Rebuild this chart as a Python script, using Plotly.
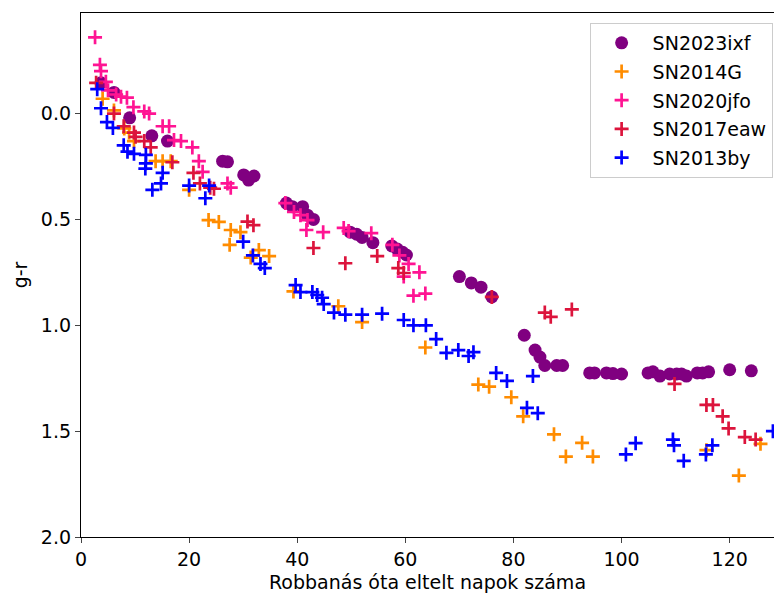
import plotly.graph_objects as go

# SN2023ixf
ixf_days = [3.7, 6.1, 9.0, 13.1, 16.0, 26.2, 27.1, 30.1, 31.0, 32.0,
            38.0, 39.1, 41.0, 41.9, 43.0, 49.8, 51.0, 52.0, 54.0, 57.5,
            58.5, 59.5, 60.2, 70.0, 72.2, 74.0, 76.0, 82.0, 84.0, 84.9,
            85.8, 88.0, 89.1, 94.1, 95.0, 97.2, 98.4, 100.0, 104.9, 105.8,
            107.1, 108.9, 110.2, 111.1, 112.0, 114.0, 115.0, 116.1, 120.0, 124.0]
ixf_gr = [-0.145, -0.1, 0.02, 0.105, 0.13, 0.225, 0.228, 0.29, 0.314, 0.295,
          0.423, 0.44, 0.44, 0.48, 0.5, 0.56, 0.57, 0.585, 0.61, 0.625,
          0.64, 0.655, 0.668, 0.77, 0.80, 0.82, 0.866, 1.047, 1.117, 1.15,
          1.19, 1.19, 1.19, 1.225, 1.225, 1.225, 1.228, 1.23, 1.225, 1.22,
          1.24, 1.23, 1.23, 1.23, 1.24, 1.225, 1.225, 1.22, 1.21, 1.215]

# SN2014G
g14_days = [4.0, 6.1, 8.0, 8.9, 9.8, 13.8, 15.1, 16.6, 20.0, 23.6,
            25.5, 27.7, 29.5, 27.5, 31.4, 32.9, 34.8, 39.3, 47.6, 52.0,
            63.7, 73.5, 75.5, 79.6, 81.8, 87.5, 92.7, 89.7, 94.7, 115.7,
            121.7, 125.7]
g14_gr = [-0.07, -0.015, 0.07, 0.09, 0.13, 0.225, 0.225, 0.225, 0.36, 0.503,
          0.512, 0.55, 0.56, 0.62, 0.68, 0.645, 0.673, 0.84, 0.91, 0.985,
          1.105, 1.28, 1.29, 1.34, 1.43, 1.515, 1.555, 1.62, 1.62, 1.59,
          1.71, 1.56]

# SN2020jfo
jfo_days = [2.6, 3.5, 3.7, 4.6, 5.0, 6.5, 7.4, 8.5, 9.7, 11.7,
            12.6, 15.1, 16.3, 17.2, 18.5, 20.6, 21.8, 22.5, 27.1, 27.7,
            37.8, 39.4, 40.6, 41.9, 41.7, 44.8, 48.6, 49.5, 53.7, 57.6,
            58.9, 60.6, 59.7, 62.6, 61.5, 63.7]
jfo_gr = [-0.36, -0.23, -0.2, -0.15, -0.11, -0.09, -0.08, -0.075, -0.03, -0.01,
          0.0, 0.06, 0.06, 0.125, 0.13, 0.16, 0.225, 0.275, 0.33, 0.35,
          0.423, 0.465, 0.48, 0.503, 0.55, 0.56, 0.54, 0.555, 0.565, 0.62,
          0.67, 0.71, 0.77, 0.75, 0.86, 0.85]

# SN2017eaw
eaw_days = [2.8, 6.1, 7.9, 9.8, 10.1, 11.7, 12.9, 16.9, 20.8, 22.0,
            23.9, 24.6, 30.8, 31.9, 43.0, 48.9, 54.8, 58.7, 59.7, 76.0,
            85.8, 86.9, 90.8, 109.8, 115.7, 116.9, 118.7, 119.8, 122.8, 124.8]
eaw_gr = [-0.145, 0.0, 0.06, 0.09, 0.11, 0.13, 0.16, 0.23, 0.28, 0.33,
          0.35, 0.355, 0.51, 0.527, 0.635, 0.707, 0.673, 0.73, 0.753, 0.866,
          0.94, 0.96, 0.925, 1.277, 1.376, 1.376, 1.43, 1.487, 1.528, 1.54]

# SN2013by
by_days = [3.0, 3.7, 4.8, 5.9, 7.9, 8.6, 9.8, 12.0, 12.0, 11.9,
           15.1, 14.8, 13.2, 20.0, 23.7, 23.0, 30.0, 31.8, 33.2, 34.0,
           39.7, 40.6, 42.8, 43.7, 44.6, 44.9, 46.8, 48.9, 52.0, 55.7,
           59.7, 61.5, 63.8, 65.7, 67.6, 69.8, 71.7, 72.6, 76.8, 78.8,
           83.6, 82.5, 84.5, 100.8, 102.6, 109.5, 109.7, 111.5, 115.6, 116.8,
           128.0]
by_gr = [-0.115, -0.025, 0.04, 0.068, 0.15, 0.18, 0.19, 0.195, 0.235, 0.26,
         0.28, 0.33, 0.36, 0.34, 0.34, 0.4, 0.605, 0.67, 0.71, 0.73,
         0.81, 0.843, 0.843, 0.857, 0.87, 0.9, 0.94, 0.95, 0.95, 0.945,
         0.975, 1.0, 1.0, 1.065, 1.13, 1.117, 1.145, 1.127, 1.225, 1.263,
         1.24, 1.39, 1.415, 1.61, 1.557, 1.54, 1.567, 1.64, 1.61, 1.567,
         1.5]

x_ticks = [0, 20, 40, 60, 80, 100, 120]
y_ticks = [0.0, 0.5, 1.0, 1.5, 2.0]

FONT = "DejaVu Sans"
FS = 19

fig = go.Figure()
fig.add_trace(go.Scatter(x=ixf_days, y=ixf_gr, mode="markers", name="SN2023ixf",
                         legendgroup="a",
                         marker=dict(symbol="circle", size=13, color="purple", line=dict(width=0))))
plus_series = [
    ("SN2014G", g14_days, g14_gr, "darkorange", "b"),
    ("SN2020jfo", jfo_days, jfo_gr, "deeppink", "c"),
    ("SN2017eaw", eaw_days, eaw_gr, "crimson", "d"),
    ("SN2013by", by_days, by_gr, "blue", "e"),
]
for name, xs, ys, col, grp in plus_series:
    fig.add_trace(go.Scatter(x=xs, y=ys, mode="markers", name=name, legendgroup=grp,
                             marker=dict(symbol="cross-thin", size=10, color=col,
                                         line=dict(width=2.7, color=col))))

fig.update_layout(
    width=774, height=597,
    margin=dict(l=81, r=0, t=13, b=60),
    paper_bgcolor="white", plot_bgcolor="white",
    font=dict(family=FONT, size=FS, color="black"),
    showlegend=True,
    legend=dict(x=0.998, xanchor="right", y=0.981, yanchor="top",
                bgcolor="white", bordercolor="#cccccc", borderwidth=1,
                font=dict(family=FONT, size=FS), tracegroupgap=1,
                traceorder="grouped", itemwidth=52),
)
fig.update_xaxes(range=[0, 128.2], tickvals=x_ticks, ticks="outside", ticklen=5, tickwidth=1.2,
                 showline=True, linecolor="black", linewidth=1.3, mirror=True,
                 showgrid=False, zeroline=False,
                 tickfont=dict(family=FONT, size=FS),
                 title=dict(text="Robbanás óta eltelt napok száma", font=dict(family=FONT, size=FS), standoff=6))
fig.update_yaxes(range=[2.0, -0.475], tickvals=y_ticks, tickformat=".1f", ticks="outside", ticklen=5,
                 tickwidth=1.2, showline=True, linecolor="black", linewidth=1.3, mirror=False,
                 showgrid=False, zeroline=False,
                 tickfont=dict(family=FONT, size=FS),
                 title=dict(text="g-r", font=dict(family=FONT, size=FS), standoff=8))

fig.write_html("out.html")
